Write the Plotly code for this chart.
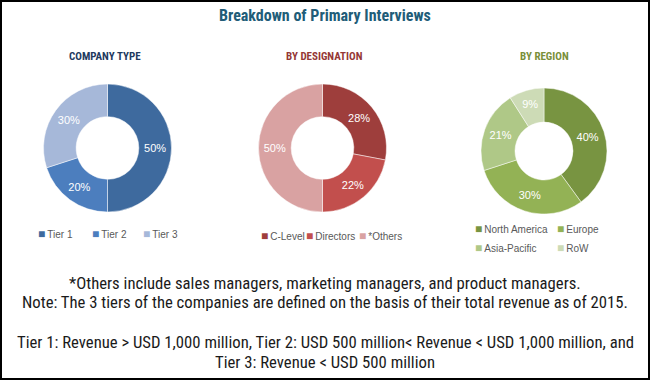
import plotly.graph_objects as go

# ---- data ----
company_labels = ["Tier 1", "Tier 2", "Tier 3"]
company_values = [50, 20, 30]
company_colors = ["#3E6A9E", "#4C7EBE", "#A6B8D9"]

designation_labels = ["C-Level", "Directors", "*Others"]
designation_values = [28, 22, 50]
designation_colors = ["#9E3E3C", "#C24F4D", "#D9A2A2"]

region_labels = ["North America", "Europe", "Asia-Pacific", "RoW"]
region_values = [40, 30, 21, 9]
region_colors = ["#789441", "#93B255", "#AFC887", "#CDDBB6"]

title_text = "Breakdown of Primary Interviews"
panel_titles = ["COMPANY TYPE", "BY DESIGNATION", "BY REGION"]
panel_title_colors = ["#1F3A5F", "#953735", "#7A8F3A"]
footnotes = [
    "*Others include sales managers, marketing managers, and product managers.",
    "Note: The 3 tiers of the companies are defined on the basis of their total revenue as of 2015.",
    "Tier 1: Revenue > USD 1,000 million, Tier 2: USD 500 million< Revenue < USD 1,000 million, and",
    "Tier 3: Revenue < USD 500 million",
]

W, H = 650, 380
COND = "Liberation Sans Narrow, Roboto Condensed, Arial Narrow, sans-serif"
LEG = "Liberation Sans, Arial, sans-serif"


def px_x(x):
    return x / W


def px_y(y):
    return 1 - y / H


fig = go.Figure()

pies = [
    (company_labels, company_values, company_colors, (107.5, 148, 64), 0.49),
    (designation_labels, designation_values, designation_colors, (322.5, 148, 64), 0.49),
    (region_labels, region_values, region_colors, (544, 151, 63), 0.46),
]
for labels, values, colors, (cx, cy, r), hole in pies:
    fig.add_trace(go.Pie(
        labels=labels, values=values, sort=False, direction="clockwise",
        hole=hole,
        marker=dict(colors=colors, line=dict(color="rgba(255,255,255,0.6)", width=0.8)),
        texttemplate="%{value}%", textposition="inside",
        insidetextorientation="horizontal",
        textfont=dict(color="white", size=11, family=LEG),
        domain=dict(x=[px_x(cx - r), px_x(cx + r)], y=[px_y(cy + r), px_y(cy - r)]),
        showlegend=False, hoverinfo="label+percent",
    ))

annotations = []
annotations.append(dict(text="<b>" + title_text + "</b>", x=px_x(325), y=px_y(15),
                        xref="paper", yref="paper", xanchor="center", yanchor="middle",
                        showarrow=False,
                        font=dict(family=COND, size=16, color="#215C78")))
for t, c, x in zip(panel_titles, panel_title_colors, [105, 324, 544]):
    annotations.append(dict(text="<b>" + t + "</b>", x=px_x(x), y=px_y(56),
                            xref="paper", yref="paper", xanchor="center", yanchor="middle",
                            showarrow=False,
                            font=dict(family=COND, size=11, color=c)))

# legends (built from the label / colour lists)
legend_layout = [
    (company_labels, company_colors, [(36, 234), (90, 234), (141, 234)]),
    (designation_labels, designation_colors, [(259, 236), (304, 236), (357, 236)]),
    (region_labels, region_colors, [(473, 229), (555, 229), (473, 248), (555, 248)]),
]
for labels, colors, positions in legend_layout:
    for lab, col, (x, y) in zip(labels, colors, positions):
        annotations.append(dict(
            text=f"<span style='color:{col};font-size:12px'>■</span>\u2009" + lab,
            x=px_x(x), y=px_y(y), xref="paper", yref="paper",
            xanchor="left", yanchor="middle",
            showarrow=False, font=dict(family=LEG, size=10, color="#595959")))

for t, y in zip(footnotes, [283, 302, 342, 362]):
    annotations.append(dict(text=t, x=px_x(325), y=px_y(y), xref="paper", yref="paper",
                            xanchor="center", yanchor="middle",
                            showarrow=False, font=dict(family=COND, size=16.7, color="#1A1A1A")))

fig.update_layout(
    width=W, height=H,
    margin=dict(l=0, r=0, t=0, b=0),
    paper_bgcolor="white", plot_bgcolor="white",
    annotations=annotations,
    shapes=[dict(type="rect", xref="paper", yref="paper", x0=0, y0=0, x1=1, y1=1,
                 line=dict(color="black", width=4))],
)

fig.write_html("out.html", config={"displayModeBar": False},
               post_script="document.body.style.margin='0';")
